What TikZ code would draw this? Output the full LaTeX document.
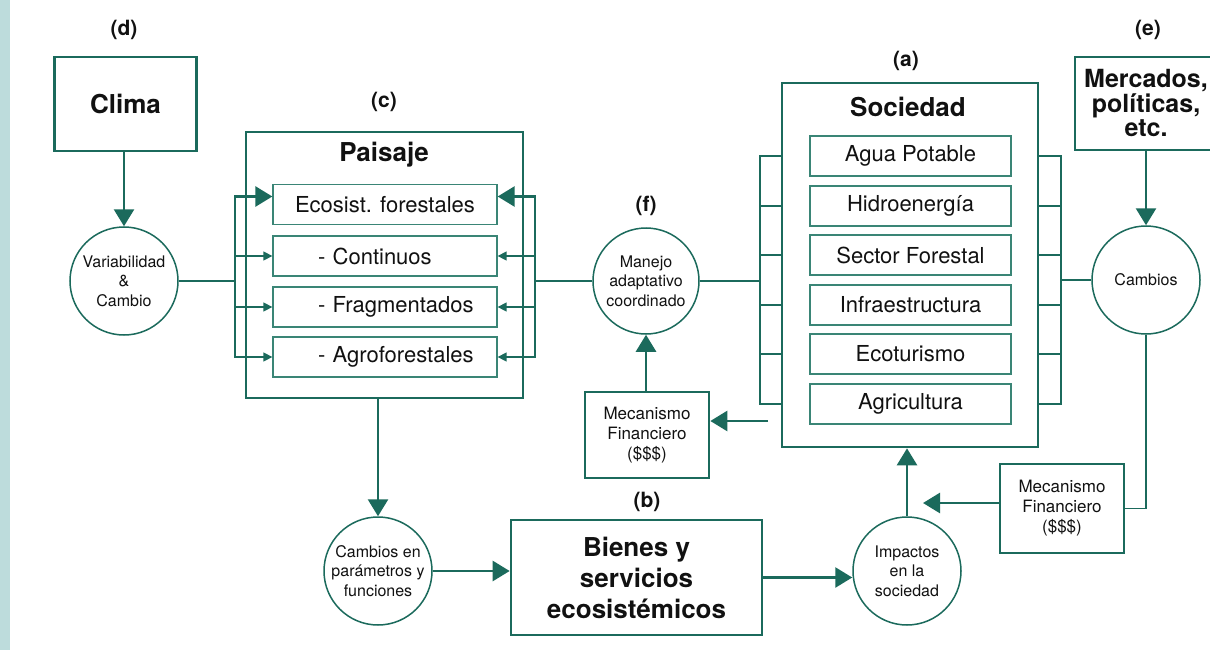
\documentclass[tikz,border=0pt]{standalone}
\usepackage{fontspec}
\setmainfont{TeX Gyre Heros}
\usetikzlibrary{arrows.meta}
\definecolor{tealc}{HTML}{1B6A5C}
\definecolor{tealin}{HTML}{3A8576}
\definecolor{stripc}{HTML}{BDDCDC}
\definecolor{txt}{HTML}{111111}
\begin{document}
\begin{tikzpicture}[x=1pt,y=-1pt,
  every node/.style={text=txt},
  bigbox/.style={draw=tealc,line width=2.7pt,inner sep=0pt,align=center},
  inbox/.style={draw=tealin,line width=1.3pt,inner sep=0pt,minimum height=40pt,font=\fontsize{22}{26}\selectfont},
  circ/.style={draw=tealc,line width=1.5pt,circle,inner sep=0pt,minimum size=108pt,align=center,font=\fontsize{16}{19.5}\selectfont},
  ttl/.style={font=\fontsize{26}{29}\selectfont\bfseries,align=center},
  lbl/.style={font=\fontsize{21}{24}\selectfont\bfseries},
  mectext/.style={font=\fontsize{17}{20}\selectfont},
  thk/.style={draw=tealc,line width=2.7pt},
  thkarrow/.style={thk,-{Triangle[length=17pt,width=20pt]}},
  thn/.style={draw=tealc,line width=1.4pt},
  thnarrow/.style={thn,-{Triangle[length=9pt,width=9pt]}}]
\useasboundingbox (0,0) rectangle (1210,650);
\fill[white] (0,0) rectangle (1210,650);
\begin{scope}
\clip (0,0) rectangle (1210,650);
\fill[stripc] (0,0) rectangle (10,650);

% labels
\node[lbl] (ld) at (124,30) {(d)};
\node[lbl] (lc) at (384,102) {(c)};
\node[lbl] (lf) at (646,206) {(f)};
\node[lbl] (la) at (906,61) {(a)};
\node[lbl] (le) at (1148,30) {(e)};
\node[lbl] (lb) at (647,502) {(b)};

% Clima
\node[bigbox,ttl,minimum width=142pt,minimum height=94pt] (clima) at (125.5,104) {Clima};
\node[circ] (var) at (124,281) {Variabilidad\\\&\\Cambio};

% Paisaje
\node[bigbox,minimum width=277pt,minimum height=266pt] (pais) at (384.5,265) {};
\node[ttl] (paist) at (384,155) {Paisaje};
\node[inbox,minimum width=224pt] (ecos) at (385,204.5) {Ecosist. forestales};
\node[inbox,text width=224pt,align=left] (cont) at (385,256) {\hspace*{45pt}- Continuos};
\node[inbox,text width=224pt,align=left] (frag) at (385,307) {\hspace*{45pt}- Fragmentados};
\node[inbox,text width=224pt,align=left] (agro) at (385,357) {\hspace*{45pt}- Agroforestales};

% bottom row
\node[circ] (camen) at (378,571) {Cambios en\\parámetros y\\funciones};
\node[bigbox,ttl,minimum width=251pt,minimum height=115pt,font=\fontsize{26}{31}\selectfont\bfseries] (bienes) at (636.5,577.5) {Bienes y\\servicios\\ecosistémicos};
\node[circ] (imp) at (907,571) {Impactos\\en la\\sociedad};

% Manejo
\node[circ,minimum size=106pt] (man) at (646,281) {Manejo\\adaptativo\\coordinado};
\node[bigbox,mectext,minimum width=124pt,minimum height=86pt] (mec1) at (647,435) {Mecanismo\\Financiero\\(\$\$\$)};

% Sociedad
\node[bigbox,minimum width=256pt,minimum height=364pt] (soc) at (910,265) {};
\node[ttl] (soct) at (908,107) {Sociedad};
\node[inbox,minimum width=201pt] (agua) at (910.5,156) {Agua Potable};
\node[inbox,minimum width=201pt] (hidro) at (910.5,206) {Hidroenergía};
\node[inbox,minimum width=201pt] (sect) at (910.5,255) {Sector Forestal};
\node[inbox,minimum width=201pt] (infra) at (910.5,305) {Infraestructura};
\node[inbox,minimum width=201pt] (ecot) at (910.5,354) {Ecoturismo};
\node[inbox,minimum width=201pt] (agri) at (910.5,404) {Agricultura};

% right side
\node[bigbox,minimum width=140pt,minimum height=93pt] (merc) at (1145,103.5) {};
\node[ttl,font=\fontsize{25}{24}\selectfont\bfseries] (merct) at (1146,103) {Mercados,\\políticas,\\etc.};
\node[circ] (cam) at (1146,280) {Cambios};
\node[bigbox,mectext,minimum width=124pt,minimum height=89pt] (mec2) at (1062,508.5) {Mecanismo\\Financiero\\(\$\$\$)};

% coordinates
\coordinate (lj) at (235,281);
\coordinate (rj) at (535,281);
\coordinate (sl) at (760,281);
\coordinate (sr) at (1061,280);
\coordinate (s1) at (768,421);
\coordinate (s2) at (923,503);

% connectors
\draw[thkarrow] (clima.south -| var.north) -- (var.north);
\draw[thnarrow] (lj) |- (cont.west);
\draw[thnarrow] (lj) |- (frag.west);
\draw[thnarrow] (lj) |- (agro.west);
\draw[thkarrow] (var.east) -- (lj) |- ([yshift=8pt]ecos.west);
\draw[thnarrow] (rj) |- (cont.east);
\draw[thnarrow] (rj) |- (frag.east);
\draw[thnarrow] (rj) |- (agro.east);
\draw[thkarrow] (man.west) -- (rj) |- ([yshift=8pt]ecos.east);

\draw[thkarrow] (camen.north |- pais.south) -- (camen.north);
\draw[thkarrow] (camen.east) -- (camen.east -| bienes.west);
\draw[thkarrow] (bienes.east) -- (bienes.east -| imp.west);
\draw[thkarrow] (imp.north) -- (imp.north |- soc.south);
\draw[thkarrow] (man.south |- mec1.north) -- (man.south);
\draw[thkarrow] (s1) -- (s1 -| mec1.east);
\draw[thkarrow] (mec2.west |- s2) -- (s2);
\draw[thkarrow] (cam.north |- merc.south) -- (cam.north);
\draw[thn] (cam.south) |- (mec2.east);

% brackets
\draw[thk] (man.east) -- (sl);
\draw[thk] (soc.west |- agua) -| (sl |- agri) -- (soc.west |- agri);
\foreach \n in {hidro,sect,infra,ecot} \draw[thk] (soc.west |- \n) -- (sl |- \n);
\draw[thk] (cam.west) -- (sr);
\draw[thk] (soc.east |- agua) -| (sr |- agri) -- (soc.east |- agri);
\foreach \n in {hidro,sect,infra,ecot} \draw[thk] (soc.east |- \n) -- (sr |- \n);
\end{scope}
\end{tikzpicture}
\end{document}
